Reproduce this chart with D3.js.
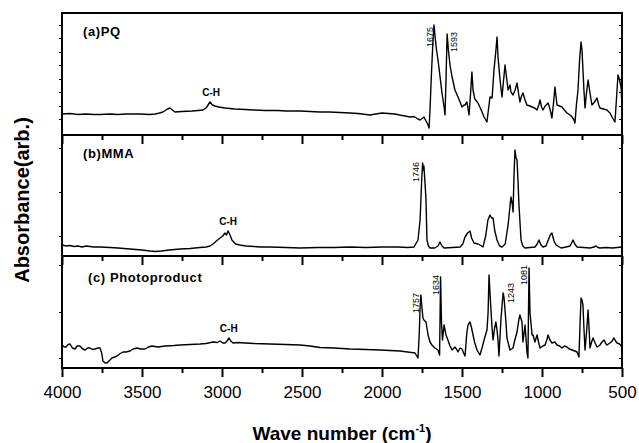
<!DOCTYPE html>
<html><head><meta charset="utf-8">
<script src="https://cdn.jsdelivr.net/npm/d3@7"></script>
<style>
body{margin:0;background:#fff}
svg{display:block;font-family:"Liberation Sans",Arial,Helvetica,sans-serif}
</style></head><body>
<svg id="chart" width="639" height="443"></svg>
<script>
// FT-IR absorbance spectra, [wavenumber (cm-1), absorbance (arb.)]
const waveTicksMajor = [4000, 3500, 3000, 2500, 2000, 1500, 1000, 500];
const waveTicksMinor = [3750, 3250, 2750, 2250, 1750, 1250, 750];

const spectrumPQ = [[4000,0.21],[3950,0.215],[3900,0.205],[3850,0.21],[3800,0.205],[3762,0.205],[3700,0.21],[3650,0.205],[3600,0.21],[3512,0.21],[3450,0.205],[3419,0.21],[3390,0.22],[3369,0.23],[3340,0.26],[3325,0.27],[3310,0.25],[3294,0.23],[3250,0.235],[3187,0.24],[3150,0.245],[3119,0.25],[3100,0.27],[3087,0.30],[3075,0.33],[3060,0.30],[3044,0.29],[3020,0.28],[2981,0.27],[2920,0.26],[2856,0.255],[2800,0.25],[2731,0.245],[2650,0.245],[2600,0.24],[2512,0.24],[2450,0.235],[2388,0.23],[2330,0.23],[2262,0.225],[2200,0.22],[2150,0.215],[2075,0.20],[2040,0.21],[2000,0.22],[1960,0.215],[1919,0.21],[1890,0.20],[1856,0.19],[1825,0.18],[1800,0.185],[1775,0.16],[1762,0.15],[1745,0.17],[1738,0.18],[1725,0.14],[1712,0.10],[1706,0.07],[1700,0.25],[1690,0.65],[1682,0.92],[1675,1.10],[1668,0.98],[1660,0.86],[1650,0.75],[1640,0.62],[1625,0.42],[1612,0.28],[1606,0.20],[1600,0.55],[1593,1.01],[1585,0.85],[1575,0.70],[1562,0.58],[1544,0.45],[1525,0.38],[1512,0.33],[1500,0.28],[1487,0.30],[1481,0.30],[1469,0.33],[1456,0.20],[1445,0.45],[1438,0.63],[1431,0.45],[1420,0.36],[1400,0.32],[1380,0.25],[1362,0.18],[1344,0.13],[1335,0.25],[1325,0.38],[1312,0.37],[1300,0.65],[1288,0.85],[1281,0.98],[1275,0.78],[1262,0.55],[1250,0.38],[1240,0.55],[1231,0.70],[1222,0.58],[1212,0.45],[1200,0.50],[1194,0.43],[1181,0.40],[1168,0.45],[1156,0.52],[1145,0.40],[1138,0.33],[1130,0.38],[1119,0.42],[1106,0.35],[1094,0.30],[1075,0.29],[1062,0.28],[1045,0.27],[1031,0.25],[1020,0.30],[1012,0.35],[1003,0.28],[994,0.25],[980,0.29],[962,0.32],[950,0.26],[938,0.17],[928,0.32],[919,0.48],[912,0.38],[906,0.30],[890,0.29],[875,0.28],[860,0.25],[844,0.22],[825,0.20],[812,0.18],[800,0.15],[794,0.12],[785,0.30],[775,0.45],[765,0.75],[756,0.93],[750,0.85],[744,0.65],[738,0.45],[731,0.27],[722,0.42],[712,0.55],[700,0.42],[688,0.30],[672,0.33],[656,0.37],[645,0.30],[638,0.27],[615,0.26],[594,0.25],[575,0.22],[562,0.18],[544,0.13],[535,0.35],[525,0.60],[515,0.55],[506,0.48],[500,0.28]];

const spectrumMMA = [[4000,0.11],[3975,0.10],[3950,0.105],[3925,0.095],[3900,0.10],[3875,0.09],[3850,0.10],[3825,0.095],[3800,0.09],[3762,0.09],[3700,0.085],[3650,0.08],[3575,0.07],[3500,0.06],[3450,0.05],[3419,0.045],[3380,0.05],[3330,0.06],[3262,0.07],[3200,0.075],[3138,0.085],[3100,0.09],[3075,0.10],[3056,0.12],[3035,0.15],[3012,0.18],[2995,0.20],[2981,0.23],[2972,0.21],[2962,0.25],[2950,0.21],[2938,0.16],[2915,0.12],[2888,0.11],[2850,0.10],[2800,0.095],[2762,0.09],[2700,0.09],[2600,0.085],[2512,0.08],[2400,0.085],[2300,0.085],[2200,0.09],[2100,0.085],[2000,0.09],[1900,0.09],[1840,0.085],[1800,0.09],[1775,0.16],[1762,0.36],[1752,0.76],[1746,0.93],[1742,0.86],[1738,0.90],[1730,0.70],[1725,0.56],[1719,0.16],[1710,0.10],[1700,0.08],[1670,0.08],[1650,0.10],[1638,0.14],[1625,0.10],[1612,0.08],[1560,0.085],[1512,0.09],[1495,0.12],[1481,0.19],[1465,0.23],[1450,0.25],[1440,0.18],[1425,0.13],[1400,0.12],[1388,0.11],[1369,0.09],[1352,0.20],[1338,0.36],[1325,0.41],[1315,0.38],[1306,0.38],[1295,0.25],[1281,0.16],[1265,0.10],[1250,0.09],[1230,0.12],[1212,0.31],[1200,0.50],[1194,0.59],[1186,0.52],[1181,0.44],[1175,0.80],[1169,1.06],[1162,0.98],[1156,0.96],[1150,0.75],[1144,0.51],[1131,0.16],[1120,0.10],[1106,0.08],[1075,0.085],[1044,0.09],[1030,0.12],[1019,0.16],[1006,0.11],[994,0.09],[975,0.10],[956,0.18],[945,0.22],[938,0.23],[925,0.15],[912,0.11],[881,0.08],[850,0.09],[825,0.10],[812,0.14],[806,0.16],[795,0.12],[781,0.09],[740,0.085],[700,0.08],[675,0.09],[662,0.10],[650,0.085],[638,0.08],[600,0.085],[560,0.08],[530,0.085],[500,0.09]];

const spectrumPhoto = [[4000,0.23],[3985,0.21],[3975,0.21],[3962,0.235],[3950,0.24],[3935,0.20],[3919,0.19],[3905,0.22],[3888,0.22],[3870,0.19],[3856,0.18],[3840,0.20],[3825,0.20],[3810,0.185],[3794,0.19],[3775,0.20],[3762,0.20],[3752,0.15],[3744,0.07],[3730,0.05],[3719,0.05],[3700,0.08],[3688,0.10],[3670,0.11],[3656,0.12],[3640,0.14],[3619,0.16],[3600,0.16],[3575,0.17],[3555,0.19],[3531,0.20],[3510,0.19],[3481,0.19],[3460,0.21],[3438,0.22],[3400,0.21],[3356,0.22],[3300,0.225],[3262,0.23],[3200,0.235],[3138,0.24],[3100,0.245],[3056,0.26],[3030,0.255],[3012,0.27],[2995,0.25],[2981,0.25],[2968,0.27],[2956,0.30],[2945,0.27],[2931,0.25],[2900,0.255],[2856,0.25],[2800,0.245],[2700,0.24],[2600,0.235],[2512,0.23],[2450,0.22],[2388,0.205],[2300,0.20],[2200,0.19],[2100,0.185],[2012,0.18],[1950,0.175],[1888,0.17],[1840,0.16],[1794,0.15],[1775,0.10],[1767,0.35],[1762,0.60],[1757,0.73],[1750,0.60],[1744,0.50],[1738,0.48],[1725,0.46],[1712,0.33],[1700,0.26],[1688,0.23],[1670,0.20],[1650,0.18],[1640,0.13],[1634,0.91],[1628,0.45],[1622,0.28],[1612,0.43],[1600,0.33],[1588,0.28],[1575,0.22],[1562,0.18],[1544,0.21],[1535,0.19],[1525,0.16],[1512,0.20],[1500,0.19],[1490,0.15],[1481,0.12],[1470,0.35],[1462,0.43],[1450,0.46],[1440,0.40],[1431,0.33],[1420,0.25],[1406,0.18],[1388,0.13],[1375,0.20],[1362,0.28],[1344,0.38],[1337,0.55],[1331,0.93],[1325,0.75],[1319,0.58],[1312,0.40],[1306,0.28],[1296,0.40],[1288,0.46],[1281,0.38],[1275,0.28],[1269,0.12],[1256,0.50],[1243,0.75],[1237,0.70],[1225,0.45],[1219,0.30],[1200,0.18],[1181,0.20],[1170,0.28],[1156,0.36],[1145,0.48],[1138,0.53],[1125,0.46],[1119,0.26],[1106,0.43],[1094,0.16],[1088,0.10],[1081,1.00],[1075,0.55],[1062,0.33],[1056,0.33],[1044,0.26],[1031,0.33],[1020,0.25],[1012,0.20],[995,0.22],[981,0.23],[970,0.28],[962,0.33],[950,0.28],[938,0.25],[920,0.26],[906,0.23],[890,0.22],[875,0.20],[860,0.22],[844,0.21],[830,0.19],[812,0.18],[795,0.17],[781,0.16],[769,0.11],[762,0.45],[756,0.70],[750,0.68],[744,0.63],[738,0.40],[731,0.18],[722,0.35],[712,0.58],[706,0.40],[700,0.20],[690,0.26],[681,0.30],[668,0.25],[656,0.21],[645,0.22],[638,0.23],[625,0.26],[612,0.28],[600,0.24],[594,0.23],[585,0.24],[575,0.25],[562,0.27],[550,0.30],[540,0.27],[531,0.25],[515,0.24],[500,0.21]];

const panelTitles = ["(a)PQ", "(b)MMA", "(c) Photoproduct"];
const chLabelWaves = [3068, 2962, 2958];
// marked band positions per panel (cm-1)
const peakLabelsPQ = [1675, 1593];
const peakLabelsMMA = [1746];
const peakLabelsPhoto = [1757, 1634, 1243, 1081];
const absTicksPQ = [0.16, 0.29, 0.43, 0.56, 0.70, 0.83, 0.97, 1.10];
const absTicksMMA = [0.20, 0.64, 1.08];
const absTicksPhoto = [0.10, 0.56, 1.03];

const svg = d3.select("#chart");
const left = 62, right = 622;
const x = d3.scaleLinear().domain([4000, 500]).range([left, right]);

// label placement tweaks (px): horizontal offset, vertical offset of the label top
const labelStyle = {
  1675: [-4, 2], 1593: [7, -2], 1746: [-7, -1], 1757: [-5, -2],
  1634: [-5, -2], 1243: [8, -10], 1081: [-5, -3]
};

const panels = [
  {data: spectrumPQ, top: 13, bottom: 135, max: 1.22, peaks: peakLabelsPQ, ticks: absTicksPQ},
  {data: spectrumMMA, top: 135, bottom: 256, max: 1.21, peaks: peakLabelsMMA, ticks: absTicksMMA},
  {data: spectrumPhoto, top: 256, bottom: 368, max: 1.12, peaks: peakLabelsPhoto, ticks: absTicksPhoto}
];

panels.forEach((p, i) => {
  const y = d3.scaleLinear().domain([0, p.max]).range([p.bottom, p.top]);
  const g = svg.append("g");
  const last = i === panels.length - 1;

  // spectrum trace
  g.append("path")
    .datum(p.data)
    .attr("fill", "none")
    .attr("stroke", "#000")
    .attr("stroke-width", 1.4)
    .attr("stroke-linejoin", "round")
    .attr("d", d3.line().x(d => x(d[0])).y(d => y(d[1])));

  // wavenumber axis: major and minor ticks
  const axMajor = d3.axisBottom(x).tickValues(waveTicksMajor).tickSize(9).tickPadding(9)
    .tickFormat(last ? d3.format("d") : () => "");
  const axMinor = d3.axisBottom(x).tickValues(waveTicksMinor).tickSize(5).tickFormat(() => "");
  [axMajor, axMinor].forEach(ax => {
    const a = g.append("g").attr("transform", `translate(0,${p.bottom})`).call(ax);
    a.select(".domain").remove();
    a.selectAll(".tick line").attr("stroke", "#000").attr("stroke-width", 2);
    a.selectAll(".tick text").attr("font-size", 17).attr("fill", "#000")
      .attr("font-family", "Liberation Sans, Arial, sans-serif");
  });

  // small absorbance ticks on both side frames
  [left, right].forEach(xp => {
    const a = g.append("g").attr("transform", `translate(${xp},0)`)
      .call(d3.axisLeft(y).tickValues(p.ticks).tickSize(3).tickFormat(() => ""));
    a.select(".domain").remove();
    a.selectAll(".tick line").attr("stroke", "#000").attr("stroke-width", 1);
  });

  // frame
  g.append("rect")
    .attr("x", left).attr("y", p.top)
    .attr("width", right - left).attr("height", p.bottom - p.top)
    .attr("fill", "none").attr("stroke", "#000").attr("stroke-width", 2);

  // panel title
  g.append("text")
    .attr("x", i === 2 ? 88 : 83).attr("y", p.top + (i === 2 ? 26 : 23))
    .attr("font-size", 13).attr("font-weight", "bold").attr("letter-spacing", 0.6)
    .text(panelTitles[i]);

  // C-H stretch label above its band
  const chWave = chLabelWaves[i];
  const chMax = d3.max(p.data.filter(d => Math.abs(d[0] - chWave) < 60), d => d[1]);
  g.append("text")
    .attr("x", x(chWave)).attr("y", y(chMax) - 6)
    .attr("text-anchor", "middle").attr("font-size", 10).attr("font-weight", "bold")
    .text("C-H");

  // band position labels, rotated, beside each marked peak
  p.peaks.forEach(w => {
    const pt = p.data.find(d => d[0] === w);
    const [dx, dy] = labelStyle[w];
    g.append("text")
      .attr("transform", `translate(${x(w) + dx},${y(pt[1]) + dy}) rotate(-90)`)
      .attr("text-anchor", "end").attr("dy", "0.35em")
      .attr("font-size", 9)
      .text(w);
  });
});

// axis titles
svg.append("text")
  .attr("transform", "translate(22,200) rotate(-90)")
  .attr("text-anchor", "middle").attr("dy", "0.35em")
  .attr("font-size", 20).attr("font-weight", "bold")
  .text("Absorbance(arb.)");

const xt = svg.append("text")
  .attr("x", 342).attr("y", 440)
  .attr("text-anchor", "middle")
  .attr("font-size", 19).attr("font-weight", "bold");
xt.append("tspan").text("Wave number (cm");
xt.append("tspan").attr("font-size", 11).attr("dy", -8).text("-1");
xt.append("tspan").attr("dy", 8).text(")");
</script>
</body></html>
